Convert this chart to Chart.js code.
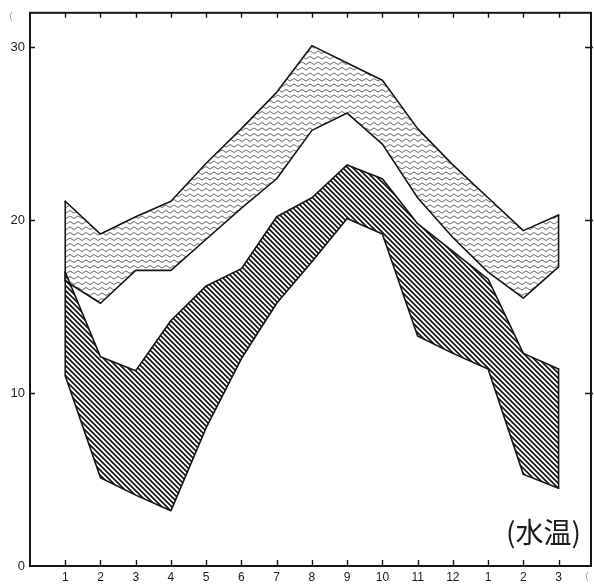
<!DOCTYPE html>
<html>
<head>
<meta charset="utf-8">
<script src="https://cdn.jsdelivr.net/npm/chart.js@4/dist/chart.umd.min.js"></script>
<style>
  html, body { margin: 0; padding: 0; background: #fff; }
  #wrap { width: 594px; height: 584px; position: relative; }
</style>
</head>
<body>
<div id="wrap"><canvas id="c" width="594" height="584"></canvas></div>
<script>
// Months along the x axis (January of one year through March of the next)
const monthLabels = ['1', '2', '3', '4', '5', '6', '7', '8', '9', '10', '11', '12', '1', '2', '3'];
const yTickValues = [0, 10, 20, 30];

// Warmer range (wavy band): monthly minimum and maximum, °C
const warmLow  = [16.5, 15.2, 17.1, 17.1, 18.9, 20.7, 22.4, 25.2, 26.2, 24.4, 21.3, 19.0, 17.0, 15.5, 17.3];
const warmHigh = [21.1, 19.2, 20.2, 21.1, 23.3, 25.3, 27.4, 30.1, 29.1, 28.1, 25.3, 23.2, 21.3, 19.4, 20.3];

// Cooler range (hatched band): monthly minimum and maximum, °C
const coolLow  = [11.0, 5.1, 4.1, 3.2, 8.0, 12.0, 15.2, 17.6, 20.1, 19.2, 13.3, 12.3, 11.4, 5.3, 4.5];
const coolHigh = [17.0, 12.1, 11.3, 14.2, 16.2, 17.2, 20.2, 21.3, 23.2, 22.4, 19.8, 18.2, 16.6, 12.3, 11.4];

const INK = '#161616';

// Diagonal hatching for the cooler band
function hatchPattern() {
  const p = 5;
  const c = document.createElement('canvas');
  c.width = p; c.height = p;
  const g = c.getContext('2d');
  g.strokeStyle = INK;
  g.lineWidth = 1.7;
  g.beginPath();
  g.moveTo(-1, -1); g.lineTo(p + 1, p + 1);
  g.moveTo(p - 1, -1); g.lineTo(p + 1, 1);
  g.moveTo(-1, p - 1); g.lineTo(1, p + 1);
  g.stroke();
  return g.createPattern(c, 'repeat');
}

// Horizontal wavy lines for the warmer band
function wavePattern() {
  const w = 8, h = 11;
  const c = document.createElement('canvas');
  c.width = w; c.height = h;
  const g = c.getContext('2d');
  g.strokeStyle = '#3a3a3a';
  g.lineWidth = 0.9;
  [2.75, 8.25].forEach(y0 => {
    g.beginPath();
    for (let x = -1; x <= w + 1; x += 0.5) {
      const y = y0 + 1.0 * Math.sin(2 * Math.PI * x / w);
      if (x === -1) g.moveTo(x, y); else g.lineTo(x, y);
    }
    g.stroke();
  });
  return g.createPattern(c, 'repeat');
}

const toPoints = arr => arr.map((v, i) => ({ x: i + 1, y: v }));
const edge = (lo, hi, i) => [{ x: i + 1, y: lo[i] }, { x: i + 1, y: hi[i] }];
const last = monthLabels.length - 1;

const lineStyle = {
  borderColor: INK,
  borderWidth: 1.6,
  pointRadius: 0,
  borderJoinStyle: 'round',
  borderCapStyle: 'round',
  tension: 0
};

const datasets = [
  // cooler band (drawn last, on top)
  { ...lineStyle, label: 'cool-left', data: edge(coolLow, coolHigh, 0), fill: false },
  { ...lineStyle, label: 'cool-right', data: edge(coolLow, coolHigh, last), fill: false },
  { ...lineStyle, label: 'cool-min', data: toPoints(coolLow), fill: false },
  { ...lineStyle, label: 'cool-max', data: toPoints(coolHigh), fill: '-1', backgroundColor: hatchPattern() },
  // warmer band
  { ...lineStyle, label: 'warm-left', data: edge(warmLow, warmHigh, 0), fill: false },
  { ...lineStyle, label: 'warm-right', data: edge(warmLow, warmHigh, last), fill: false },
  { ...lineStyle, label: 'warm-min', data: toPoints(warmLow), fill: false },
  { ...lineStyle, label: 'warm-max', data: toPoints(warmHigh), fill: '-1', backgroundColor: wavePattern() }
];

// Frame, inward tick marks and the panel caption
const framePlugin = {
  id: 'frame',
  afterDatasetsDraw(chart) {
    const { ctx, chartArea: a, scales: { x, y } } = chart;
    ctx.save();
    ctx.strokeStyle = INK;
    ctx.lineWidth = 2;
    ctx.strokeRect(a.left, a.top, a.right - a.left, a.bottom - a.top);

    ctx.lineWidth = 1.4;
    ctx.beginPath();
    monthLabels.forEach((_, i) => {
      const px = Math.round(x.getPixelForValue(i + 1)) + 0.5;
      ctx.moveTo(px, a.bottom); ctx.lineTo(px, a.bottom - 6);
      ctx.moveTo(px, a.top); ctx.lineTo(px, a.top + 5);
    });
    yTickValues.filter(v => v > 0).forEach(v => {
      const py = Math.round(y.getPixelForValue(v)) + 0.5;
      ctx.moveTo(a.left, py); ctx.lineTo(a.left + 5, py);
      ctx.moveTo(a.right + 2, py); ctx.lineTo(a.right - 6, py);
    });
    ctx.stroke();

    ctx.fillStyle = '#1c1c1c';
    ctx.font = '28px "Noto Sans CJK JP", "Noto Sans CJK SC", sans-serif';
    ctx.textAlign = 'right';
    ctx.textBaseline = 'middle';
    ctx.fillText('(水温)', a.right - 10, 532);

    ctx.fillStyle = '#9a9a9a';
    ctx.font = '9px "Liberation Sans", sans-serif';
    ctx.textAlign = 'center';
    ctx.fillText('(', 11, 17);
    ctx.fillText('(', 587, 577);
    ctx.restore();
  }
};

new Chart(document.getElementById('c'), {
  type: 'line',
  data: { datasets },
  plugins: [framePlugin],
  options: {
    responsive: false,
    animation: false,
    events: [],
    layout: { padding: { top: 10, right: 3, left: 0, bottom: 0 } },
    plugins: { legend: { display: false }, tooltip: { enabled: false }, title: { display: false } },
    scales: {
      x: {
        type: 'linear',
        min: 0,
        max: 15.92,
        afterBuildTicks: s => { s.ticks = monthLabels.map((_, i) => ({ value: i + 1 })); },
        afterFit: s => { s.height = 18; },
        grid: { display: false, drawTicks: false },
        border: { display: false },
        ticks: {
          autoSkip: false,
          maxRotation: 0,
          padding: 4,
          color: '#1c1c1c',
          font: { family: '"Liberation Sans", Arial, sans-serif', size: 12 },
          callback: (value, index) => monthLabels[index]
        }
      },
      y: {
        type: 'linear',
        min: 0,
        max: 32,
        afterBuildTicks: s => { s.ticks = yTickValues.map(v => ({ value: v })); },
        afterFit: s => { s.width = 30; },
        grid: { display: false, drawTicks: false },
        border: { display: false },
        ticks: {
          padding: 5,
          color: '#1c1c1c',
          font: { family: '"Liberation Sans", Arial, sans-serif', size: 13 },
          callback: v => String(v)
        }
      }
    }
  }
});
</script>
</body>
</html>
